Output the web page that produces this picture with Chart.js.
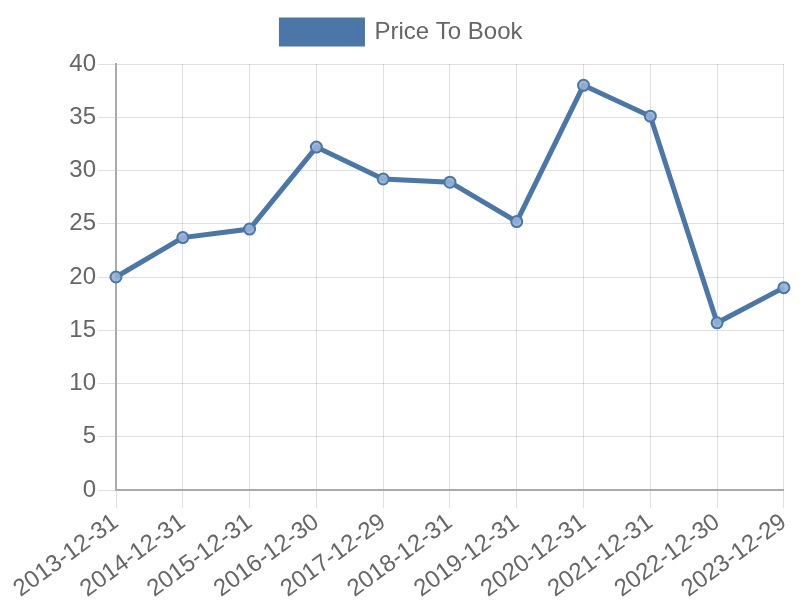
<!DOCTYPE html>
<html>
<head>
<meta charset="utf-8">
<script src="https://cdn.jsdelivr.net/npm/chart.js@4"></script>
<style>
  html, body { margin: 0; padding: 0; background: #fff; }
  #wrap { width: 800px; height: 600px; }
</style>
</head>
<body>
<div id="wrap"><canvas id="chart"></canvas></div>
<script>
  const dates = ['2013-12-31', '2014-12-31', '2015-12-31', '2016-12-30', '2017-12-29', '2018-12-31',
                 '2019-12-31', '2020-12-31', '2021-12-31', '2022-12-30', '2023-12-29'];
  const priceToBook = [20.0, 23.7, 24.5, 32.2, 29.2, 28.9, 25.2, 38.0, 35.1, 15.7, 19.0];
  const yTicks = { min: 0, max: 40, step: 5 };

  const blue = 'rgb(74,118,168)';
  Chart.defaults.font.family = '"Liberation Sans", Arial, sans-serif';
  Chart.defaults.color = '#666';

  // a bit more room under the legend
  const legendGap = {
    id: 'legendGap',
    beforeInit(chart) {
      const fit = chart.legend.fit;
      chart.legend.fit = function () {
        fit.bind(chart.legend)();
        this.height += 10;
      };
    }
  };

  new Chart(document.getElementById('chart'), {
    type: 'line',
    data: {
      labels: dates,
      datasets: [{
        label: 'Price To Book',
        data: priceToBook,
        borderColor: blue,
        backgroundColor: blue,
        borderWidth: 5,
        pointRadius: 5.5,
        pointBorderWidth: 2,
        pointBackgroundColor: 'rgba(150,178,214,0.9)',
        pointBorderColor: blue,
        tension: 0,
        fill: false
      }]
    },
    plugins: [legendGap],
    options: {
      responsive: true,
      maintainAspectRatio: false,
      animation: false,
      layout: { padding: { top: 2, left: 13, right: 9 } },
      plugins: {
        legend: {
          position: 'top',
          labels: { font: { size: 24 }, boxWidth: 81, boxHeight: 24, padding: 18 }
        },
        tooltip: { enabled: false }
      },
      scales: {
        x: {
          grid: { color: 'rgba(0,0,0,0.12)', tickLength: 18 },
          border: { color: '#aaa', width: 2 },
          ticks: { font: { size: 24, lineHeight: 1 }, padding: 2, maxRotation: 36, minRotation: 36 },
          afterFit: s => { s.height = 110; }
        },
        y: {
          min: yTicks.min,
          max: yTicks.max,
          grid: { color: 'rgba(0,0,0,0.12)', tickLength: 18 },
          border: { color: '#aaa', width: 2 },
          ticks: { stepSize: yTicks.step, font: { size: 24 }, padding: 2 },
          afterFit: s => { s.width = 103; }
        }
      }
    }
  });
</script>
</body>
</html>
